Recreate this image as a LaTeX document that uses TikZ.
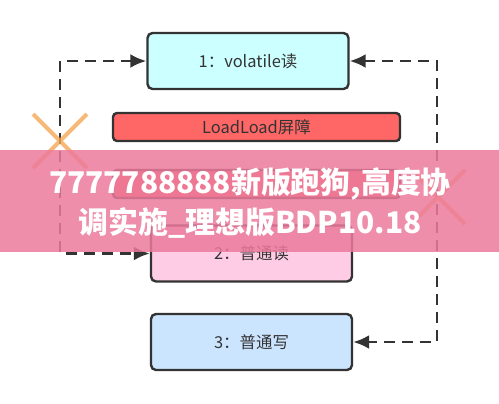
\documentclass[tikz,border=0pt]{standalone}
\usepackage{fontspec}
\setmainfont{Noto Sans CJK SC}
\usetikzlibrary{arrows.meta,positioning,calc}
\definecolor{Tinta}{RGB}{51,51,51}
\definecolor{CianPalido}{RGB}{204,255,255}
\definecolor{RosaPalido}{RGB}{255,204,230}
\definecolor{AzulPalido}{RGB}{204,229,255}
\definecolor{Barrera}{RGB}{255,102,102}
\definecolor{Cruz}{RGB}{245,168,85}
\definecolor{Banda}{RGB}{236,122,156}
\tikzset{
  opbox/.style={draw=Tinta, line width=2.4bp, rounded corners=5bp, fill=#1,
    align=center, minimum width=201bp, minimum height=56bp,
    font=\fontsize{16.5}{18}\selectfont, text=Tinta, inner sep=0pt},
  opbox/.default=CianPalido,
  barbox/.style={draw=Tinta, line width=2.4bp, rounded corners=4bp, fill=Barrera,
    align=center, minimum width=287bp, minimum height=28bp,
    font=\fontsize{16.5}{18}\selectfont, text=Tinta, inner sep=0pt},
  dasharr/.style={{Latex[length=16bp, width=14bp]}-{Latex[length=16bp, width=14bp]},
    line width=2.6bp, Tinta, dash pattern=on 11bp off 7bp},
  cruz/.style={Cruz, line width=4bp, opacity=0.8},
  banda/.style={fill=Banda, fill opacity=0.85},
}
\begin{document}
\begin{tikzpicture}[x=1bp, y=-1bp]
  \useasboundingbox (0,0) rectangle (499,403);
  \node[opbox=CianPalido] (lectura) at (248,61) {1：volatile读};
  \node[barbox] (loadload) at (256.5,127) {LoadLoad屏障};
  \node[barbox] (loadstore) at (256.5,184) {};
  \node[opbox=RosaPalido] (normalLee) at (251.5,253.5) {2：普通读};
  \node[opbox=AzulPalido] (normalEsc) at (251.5,342) {3：普通写};
  \coordinate (izq) at (60,150);
  \coordinate (der) at (437,200);
  \draw[dasharr] (lectura.west) -| (izq) |- (normalLee.west);
  \draw[dasharr] (lectura.east) -| (der) |- (normalEsc.east);
  % cruces
  \foreach \cx/\cy in {60/141, 438/197}
    \draw[cruz] (\cx-27,\cy-27) -- (\cx+27,\cy+27) (\cx+27,\cy-27) -- (\cx-27,\cy+27);
  % banda
  \fill[banda] (0,150) rectangle (499,252);
  \node[font=\fontsize{30}{40}\selectfont\bfseries, text=white, align=center] (marca) at (250,203)
    {7777788888新版跑狗,高度协\\调实施\_理想版BDP10.18};
\end{tikzpicture}
\end{document}
